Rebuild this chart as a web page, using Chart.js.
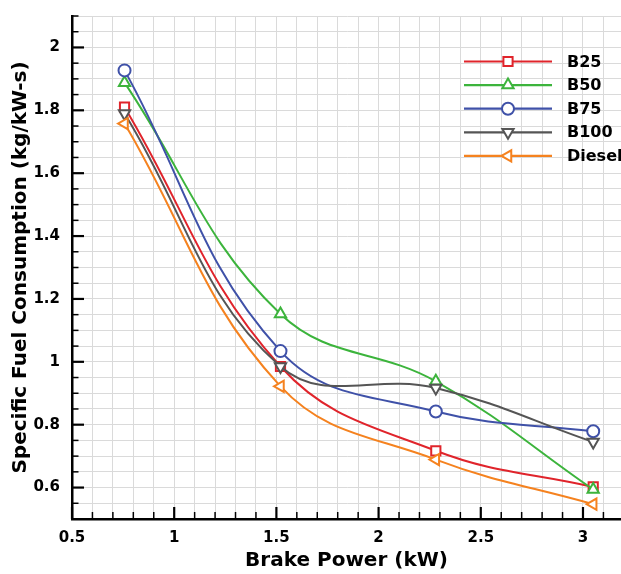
<!DOCTYPE html>
<html>
<head>
<meta charset="utf-8">
<script src="https://cdn.jsdelivr.net/npm/chart.js@4/dist/chart.umd.min.js"></script>
<style>
  html, body { margin: 0; padding: 0; background: #ffffff; overflow: hidden; }
  #wrap { width: 621px; height: 574px; }
</style>
</head>
<body>
<div id="wrap"><canvas id="c" width="621" height="574"></canvas></div>
<script>
// ---- data ----
const brakePower = [0.757, 1.52, 2.28, 3.05];
const seriesNames = ['B25', 'B50', 'B75', 'B100', 'Diesel'];
const b25 = [1.81, 0.985, 0.717, 0.602];
const b50 = [1.888, 1.152, 0.938, 0.594];
const b75 = [1.927, 1.034, 0.842, 0.779];
const b100 = [1.79, 0.985, 0.917, 0.745];
const diesel = [1.758, 0.922, 0.689, 0.547];
const xTitle = 'Brake Power (kW)';
const yTitle = 'Specific Fuel Consumption (kg/kW-s)';

const FONT = "'DejaVu Sans', sans-serif";

function pts(vals) { return vals.map((v, i) => ({ x: brakePower[i], y: v })); }

const styles = [
  { color: '#e0242b', pointStyle: 'rect', rotation: 0, radius: 6.5 },
  { color: '#3cb43c', pointStyle: 'triangle', rotation: 0, radius: 6.5 },
  { color: '#3f51a8', pointStyle: 'circle', rotation: 0, radius: 6 },
  { color: '#555555', pointStyle: 'triangle', rotation: 180, radius: 6.5 },
  { color: '#f5821f', pointStyle: 'triangle', rotation: 270, radius: 6.5 }
];
const allValues = [b25, b50, b75, b100, diesel];

const datasets = allValues.map((vals, i) => ({
  label: seriesNames[i],
  data: pts(vals),
  borderColor: styles[i].color,
  backgroundColor: '#ffffff',
  borderWidth: 2,
  pointStyle: styles[i].pointStyle,
  rotation: styles[i].rotation,
  pointRadius: styles[i].radius,
  pointBorderWidth: 2,
  pointBackgroundColor: '#ffffff',
  pointBorderColor: styles[i].color,
  tension: 0.4,
  fill: false,
  order: 5 - i
}));

function isMult(v, step) {
  const r = v / step;
  return Math.abs(r - Math.round(r)) < 1e-6;
}

const inwardTicks = {
  id: 'inwardTicks',
  afterDraw(chart) {
    const ctx = chart.ctx;
    const a = chart.chartArea;
    const xs = chart.scales.x, ys = chart.scales.y;
    ctx.save();
    ctx.strokeStyle = '#000000';
    ys.ticks.forEach(t => {
      const y = ys.getPixelForValue(t.value);
      const major = isMult(t.value, 0.2);
      ctx.lineWidth = major ? 2.2 : 1.5;
      ctx.beginPath();
      ctx.moveTo(a.left, y);
      ctx.lineTo(a.left + (major ? 12 : 6.5), y);
      ctx.stroke();
    });
    xs.ticks.forEach(t => {
      const x = xs.getPixelForValue(t.value);
      const major = isMult(t.value, 0.5);
      ctx.lineWidth = major ? 2.2 : 1.5;
      ctx.beginPath();
      ctx.moveTo(x, a.bottom);
      ctx.lineTo(x, a.bottom - (major ? 12 : 7));
      ctx.stroke();
    });
    ctx.restore();
  }
};

const legendDraw = {
  id: 'legendDraw',
  afterDraw(chart) {
    const ctx = chart.ctx;
    ctx.save();
    chart.data.datasets.forEach((ds, i) => {
      const y = 61.5 + i * 23.6;
      ctx.strokeStyle = ds.borderColor;
      ctx.lineWidth = 2.2;
      ctx.beginPath();
      ctx.moveTo(464, y);
      ctx.lineTo(552, y);
      ctx.stroke();
      ctx.fillStyle = '#ffffff';
      ctx.strokeStyle = ds.borderColor;
      ctx.lineWidth = 2;
      Chart.helpers.drawPoint(ctx, {
        pointStyle: ds.pointStyle,
        rotation: ds.rotation,
        radius: ds.pointRadius,
        borderWidth: 2
      }, 508, y);
      ctx.fillStyle = '#000000';
      ctx.font = "bold 16px " + FONT;
      ctx.textBaseline = 'middle';
      ctx.textAlign = 'left';
      ctx.fillText(ds.label, 567, y + 1);
    });
    ctx.restore();
  }
};

new Chart(document.getElementById('c'), {
  type: 'line',
  data: { datasets },
  plugins: [inwardTicks, legendDraw],
  options: {
    responsive: false,
    animation: false,
    devicePixelRatio: 1,
    layout: { autoPadding: false, padding: { top: 16, left: 0, right: 0, bottom: 0 } },
    plugins: {
      legend: { display: false },
      title: { display: false },
      tooltip: { enabled: false }
    },
    scales: {
      x: {
        type: 'linear',
        min: 0.5,
        max: 3.186,
        afterFit(scale) { scale.height = 55; scale.paddingLeft = 0; scale.paddingRight = 0; },
        grid: { color: '#dadada', lineWidth: 1, drawTicks: false },
        border: { display: true, color: '#000000', width: 2.5 },
        ticks: {
          stepSize: 0.1,
          autoSkip: false,
          includeBounds: false,
          maxRotation: 0,
          padding: 10,
          color: '#000000',
          font: { family: FONT, size: 15, weight: 'bold' },
          callback(v) { return isMult(v, 0.5) ? String(Math.round(v * 10) / 10) : ''; }
        },
        title: {
          display: true,
          text: xTitle,
          color: '#000000',
          font: { family: FONT, size: 20, weight: 'bold' },
          padding: { top: 0, bottom: 1 }
        }
      },
      y: {
        type: 'linear',
        min: 0.5,
        max: 2.1,
        afterFit(scale) { scale.width = 72; scale.paddingTop = 0; scale.paddingBottom = 0; },
        grid: { color: '#dadada', lineWidth: 1, drawTicks: false },
        border: { display: true, color: '#000000', width: 2.5 },
        ticks: {
          stepSize: 0.05,
          autoSkip: false,
          padding: 12,
          color: '#000000',
          font: { family: FONT, size: 15, weight: 'bold' },
          callback(v) { return isMult(v, 0.2) ? String(Math.round(v * 10) / 10) : ''; }
        },
        title: {
          display: true,
          text: yTitle,
          color: '#000000',
          font: { family: FONT, size: 20, weight: 'bold' },
          padding: { top: 9, bottom: 0 }
        }
      }
    }
  }
});
</script>
</body>
</html>
